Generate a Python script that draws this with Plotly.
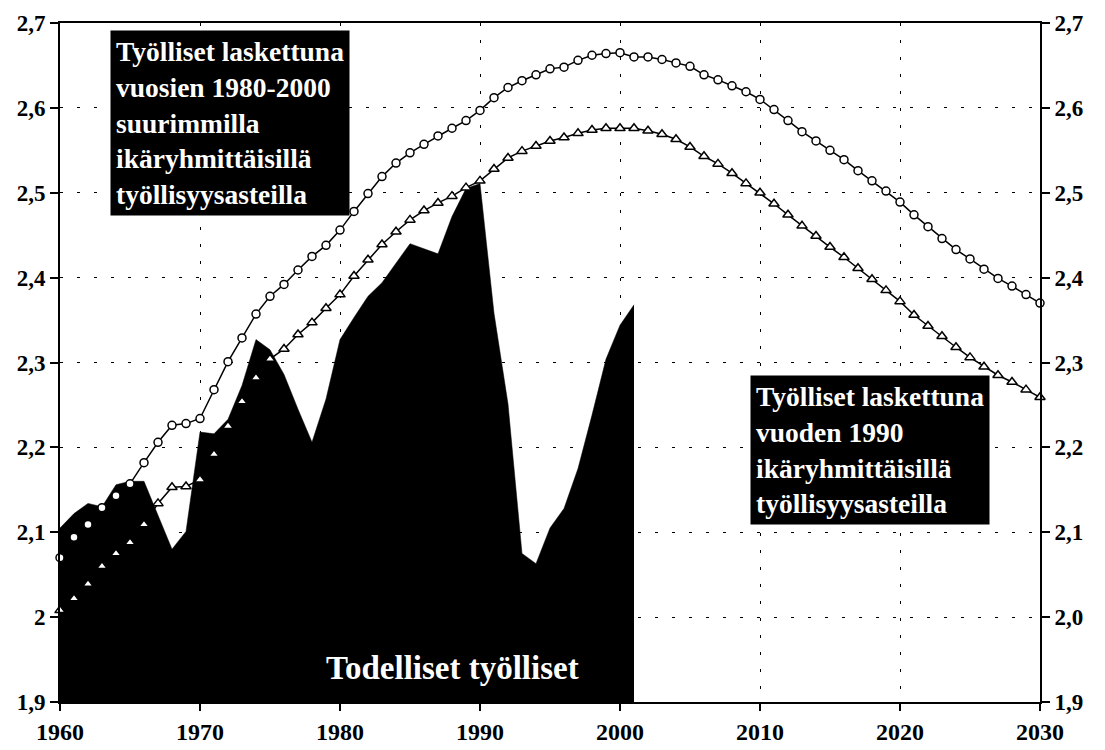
import plotly.graph_objects as go

years = list(range(1960, 2031))

max_rates = [2.070, 2.094, 2.109, 2.129, 2.143, 2.157, 2.182, 2.206, 2.226, 2.228,
             2.234, 2.268, 2.301, 2.329, 2.357, 2.378, 2.392, 2.409, 2.425, 2.438,
             2.456, 2.478, 2.499, 2.519, 2.535, 2.547, 2.557, 2.567, 2.576, 2.585,
             2.597, 2.612, 2.624, 2.632, 2.639, 2.646, 2.648, 2.656, 2.662, 2.664,
             2.665, 2.660, 2.660, 2.657, 2.653, 2.649, 2.639, 2.633, 2.626, 2.619,
             2.610, 2.598, 2.585, 2.572, 2.561, 2.550, 2.539, 2.526, 2.514, 2.502,
             2.489, 2.474, 2.460, 2.446, 2.433, 2.422, 2.410, 2.399, 2.390, 2.380,
             2.370]

rates_1990 = [2.008, 2.022, 2.039, 2.060, 2.075, 2.088, 2.109, 2.134, 2.153, 2.154,
              2.162, 2.192, 2.225, 2.254, 2.282, 2.304, 2.316, 2.333, 2.347, 2.364,
              2.380, 2.402, 2.421, 2.439, 2.454, 2.468, 2.479, 2.488, 2.496, 2.506,
              2.514, 2.528, 2.541, 2.549, 2.555, 2.561, 2.565, 2.570, 2.574, 2.576,
              2.576, 2.576, 2.573, 2.569, 2.563, 2.554, 2.543, 2.534, 2.523, 2.511,
              2.500, 2.487, 2.474, 2.461, 2.449, 2.436, 2.424, 2.411, 2.398, 2.385,
              2.372, 2.356, 2.343, 2.331, 2.318, 2.306, 2.295, 2.285, 2.277, 2.268,
              2.259]

actual_years = list(range(1960, 2002))
actual = [2.105, 2.122, 2.134, 2.130, 2.156, 2.160, 2.160, 2.120, 2.080, 2.101,
          2.218, 2.216, 2.233, 2.273, 2.327, 2.315, 2.286, 2.245, 2.206, 2.257,
          2.327, 2.353, 2.378, 2.394, 2.417, 2.440, 2.434, 2.428, 2.472, 2.505,
          2.511, 2.358, 2.251, 2.075, 2.063, 2.105, 2.128, 2.175, 2.238, 2.304,
          2.344, 2.368]

y_ticks = [1.9, 2.0, 2.1, 2.2, 2.3, 2.4, 2.5, 2.6, 2.7]
y_left_text = ["1,9", "2", "2,1", "2,2", "2,3", "2,4", "2,5", "2,6", "2,7"]
y_right_text = ["1,9", "2,0", "2,1", "2,2", "2,3", "2,4", "2,5", "2,6", "2,7"]
x_ticks = [1960, 1970, 1980, 1990, 2000, 2010, 2020, 2030]

label_max = "Työlliset laskettuna<br>vuosien 1980-2000<br>suurimmilla<br>ikäryhmittäisillä<br>työllisyysasteilla"
label_1990 = "Työlliset laskettuna<br>vuoden 1990<br>ikäryhmittäisillä<br>työllisyysasteilla"
label_actual = "Todelliset työlliset"

FONT = "Liberation Serif"

fig = go.Figure()

fig.add_trace(go.Scatter(
    x=actual_years, y=actual, mode="lines", fill="tozeroy",
    fillcolor="black", line=dict(color="black", width=0.5),
    name=label_actual, showlegend=False, hoverinfo="x+y"))

fig.add_trace(go.Scatter(
    x=years, y=max_rates, mode="lines+markers",
    line=dict(color="black", width=1.5),
    marker=dict(symbol="circle", size=8, color="white",
                line=dict(color="black", width=1.5)),
    showlegend=False, cliponaxis=False))

fig.add_trace(go.Scatter(
    x=years, y=rates_1990, mode="lines+markers",
    line=dict(color="black", width=1.5),
    marker=dict(symbol="triangle-up", size=9, color="white",
                line=dict(color="black", width=1.5)),
    showlegend=False, cliponaxis=False))

# invisible trace so the right axis is drawn
fig.add_trace(go.Scatter(x=[years[0]], y=[y_ticks[0]], yaxis="y2",
                         mode="markers", marker=dict(opacity=0),
                         showlegend=False, hoverinfo="skip"))

grid_dash = "3px,14px"
tick_font = dict(family=FONT, size=24, color="black", weight="bold")
ytick_font = dict(family=FONT, size=23, color="black", weight="bold")

# page body has an 8px default margin, so the figure is 8px smaller
fig.update_layout(
    width=1097, height=742,
    margin=dict(l=52, r=65, t=15, b=48, autoexpand=False),
    paper_bgcolor="white", plot_bgcolor="white",
    showlegend=False,
    xaxis=dict(range=[1960, 2030], tickvals=x_ticks,
               ticktext=[str(v) for v in x_ticks], automargin=False,
               ticklabeloverflow="allow",
               showgrid=True, gridcolor="black", gridwidth=1, griddash=grid_dash,
               showline=True, linecolor="black", linewidth=2, mirror=True,
               ticks="outside", ticklen=7, tickwidth=1.5, tickcolor="black",
               tickfont=tick_font, zeroline=False),
    yaxis=dict(range=[1.9, 2.7], tickvals=y_ticks, ticktext=y_left_text,
               automargin=False, ticklabeloverflow="allow",
               showgrid=True, gridcolor="black", gridwidth=1, griddash=grid_dash,
               showline=True, linecolor="black", linewidth=2,
               ticks="outside", ticklen=8, tickwidth=1.5, tickcolor="black",
               tickfont=ytick_font, zeroline=False),
    yaxis2=dict(range=[1.9, 2.7], tickvals=y_ticks, ticktext=y_right_text,
                overlaying="y", side="right", showgrid=False, automargin=False,
                ticklabeloverflow="allow",
                showline=True, linecolor="black", linewidth=2,
                ticks="outside", ticklen=8, tickwidth=1.5, tickcolor="black",
                tickfont=ytick_font, zeroline=False),
)

fig.add_annotation(
    xref="paper", yref="paper", x=0.051, y=0.99, xanchor="left", yanchor="top",
    text=label_max, showarrow=False, align="left", bgcolor="black",
    borderpad=5, font=dict(family=FONT, size=27.5, color="white", weight="bold"))

fig.add_annotation(
    xref="paper", yref="paper", x=0.704, y=0.481, xanchor="left", yanchor="top",
    text=label_1990, showarrow=False, align="left", bgcolor="black",
    borderpad=5, font=dict(family=FONT, size=27.5, color="white", weight="bold"))

fig.add_annotation(
    xref="paper", yref="paper", x=0.400, y=0.05, xanchor="center", yanchor="middle",
    text=label_actual, showarrow=False,
    font=dict(family=FONT, size=33, color="white", weight="bold"))

fig.write_html("out.html")
